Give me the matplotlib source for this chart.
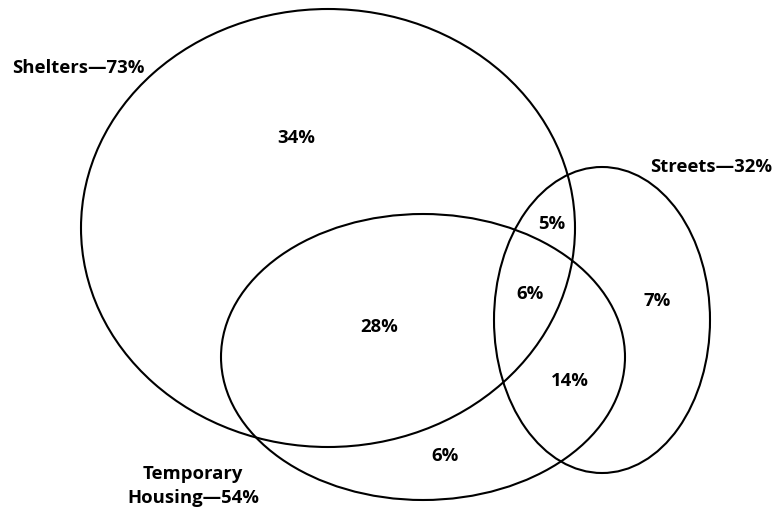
import matplotlib.pyplot as plt
from matplotlib.patches import Ellipse

# ellipse sets (center x, center y, width, height) in pixel space of the picture
sets = ['Shelters', 'Temporary Housing', 'Streets']
set_shares = [73, 54, 32]
centers = [(328, 228), (423, 357), (602, 320)]
widths = [494, 404, 216]
heights = [438, 286, 306]

# region percentages and where they sit
region_values = [34, 28, 5, 6, 7, 14, 6]
region_xy = [(296, 138), (379, 327), (552, 224), (530, 294), (657, 301), (570, 381), (445, 456)]

plt.rcParams['font.family'] = ['Open Sans', 'DejaVu Sans']
fs = 13.3

fig = plt.figure(figsize=(7.74, 5.11), dpi=100)
ax = fig.add_axes([0, 0, 1, 1])
ax.set_xlim(0, 774)
ax.set_ylim(511, 0)
ax.axis('off')

for (cx, cy), w, h in zip(centers, widths, heights):
    ax.add_patch(Ellipse((cx, cy), w, h, fill=False, edgecolor='black', linewidth=1.5))

for v, (x, y) in zip(region_values, region_xy):
    ax.text(x, y, f'{v}%', ha='center', va='center', fontsize=fs, fontweight='bold')

# set labels
ax.text(12, 68, f'{sets[0]}\u2014{set_shares[0]}%', ha='left', va='center',
        fontsize=fs, fontweight='bold')
ax.text(650, 167, f'{sets[2]}\u2014{set_shares[2]}%', ha='left', va='center',
        fontsize=fs, fontweight='bold')
ax.text(193, 486, f'Temporary\nHousing\u2014{set_shares[1]}%', ha='center', va='center',
        fontsize=fs, fontweight='bold', linespacing=1.45)

plt.savefig('out.png', dpi=100)
